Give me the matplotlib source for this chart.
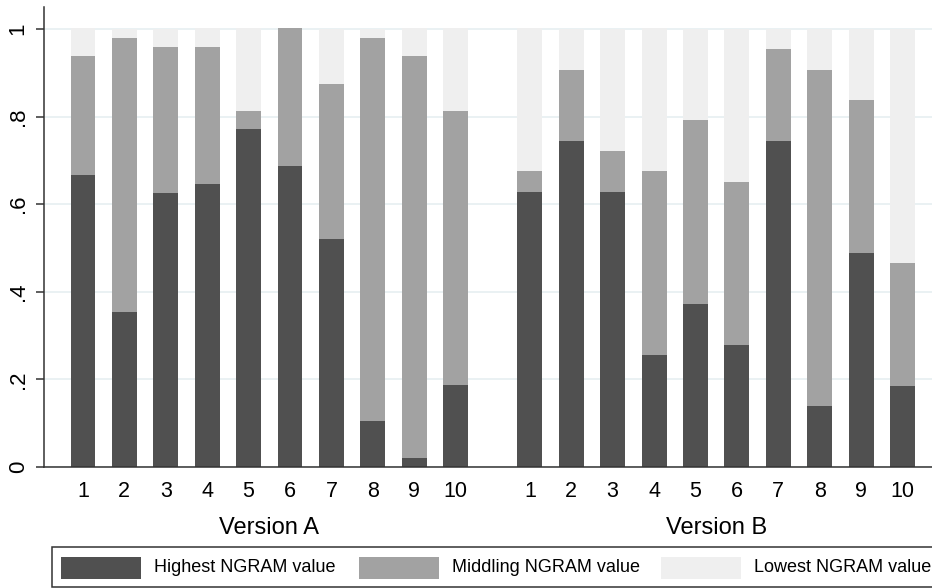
import numpy as np
import matplotlib
matplotlib.use('Agg')
import matplotlib.pyplot as plt
from matplotlib.patches import Rectangle
from matplotlib.transforms import blended_transform_factory

plt.rcParams['font.family'] = ['Liberation Sans', 'DejaVu Sans']

# shares of items per rank
items = ['1', '2', '3', '4', '5', '6', '7', '8', '9', '10']
groups = ['Version A', 'Version B']
high_a = [0.667, 0.354, 0.625, 0.646, 0.771, 0.688, 0.521, 0.104, 0.021, 0.188]
mid_a = [0.271, 0.625, 0.333, 0.313, 0.042, 0.313, 0.354, 0.875, 0.917, 0.625]
low_a = [0.063, 0.021, 0.042, 0.042, 0.188, 0.000, 0.125, 0.021, 0.063, 0.188]
high_b = [0.628, 0.744, 0.628, 0.256, 0.372, 0.279, 0.744, 0.140, 0.488, 0.186]
mid_b = [0.047, 0.163, 0.093, 0.419, 0.419, 0.372, 0.209, 0.767, 0.349, 0.279]
low_b = [0.326, 0.093, 0.279, 0.326, 0.209, 0.349, 0.047, 0.093, 0.163, 0.535]
series_names = ['Highest NGRAM value', 'Middling NGRAM value', 'Lowest NGRAM value']
colors = ['#505050', '#a2a2a2', '#efefef']

W, H = 932, 588
fig = plt.figure(figsize=(W / 100, H / 100), dpi=100)
ax = fig.add_axes([44 / W, (H - 467) / H, (W - 44) / W, 460 / H])

gap = 1.79
pos_a = np.arange(len(items))
pos_b = pos_a + len(items) - 1 + gap
width = 0.6

for pos, parts in [(pos_a, [high_a, mid_a, low_a]), (pos_b, [high_b, mid_b, low_b])]:
    bottom = np.zeros(len(items))
    for vals, c in zip(parts, colors):
        vals = np.array(vals)
        ax.bar(pos, vals, width, bottom=bottom, color=c, linewidth=0, zorder=2)
        bottom += vals

ax.set_xlim(-0.94, 20.5)
ax.set_ylim(0, 1.05)
yt = [0, 0.2, 0.4, 0.6, 0.8, 1.0]
ax.set_yticks(yt, ['0', '.2', '.4', '.6', '.8', '1'])
ax.tick_params(axis='y', length=6, width=1.1, pad=5, labelsize=16, labelrotation=90, color='#333333')
for lab in ax.get_yticklabels():
    lab.set_va('center')
ax.set_xticks(np.concatenate([pos_a, pos_b]), items + items)
ax.tick_params(axis='x', length=0, pad=10, labelsize=15.5)
ax.yaxis.grid(True, color='#e6eff1', linewidth=1.2, zorder=0)
ax.set_axisbelow(True)
for s in ['top', 'right']:
    ax.spines[s].set_visible(False)
for s in ['left', 'bottom']:
    ax.spines[s].set_color('#333333')
    ax.spines[s].set_linewidth(1.1)

trans = blended_transform_factory(ax.transData, ax.transAxes)
ax.text(pos_a.mean(), -0.133, groups[0], transform=trans, ha='center', va='center', fontsize=17)
ax.text(pos_b.mean(), -0.133, groups[1], transform=trans, ha='center', va='center', fontsize=17)

# legend box drawn in figure pixels
to_fig = lambda x, y: (x / W, (H - y) / H)
fig.patches.append(Rectangle(to_fig(52, 587), 900 / W, 40 / H, transform=fig.transFigure,
                             facecolor='white', edgecolor='#333333', linewidth=1.1))
for x0, name, c in zip([61, 359, 661], series_names, colors):
    fig.patches.append(Rectangle(to_fig(x0, 579), 80 / W, 22 / H, transform=fig.transFigure,
                                 facecolor=c, edgecolor='none'))
    fig.text(*to_fig(x0 + 93, 568), name, ha='left', va='center', fontsize=13)

fig.savefig('out.png', dpi=100)
